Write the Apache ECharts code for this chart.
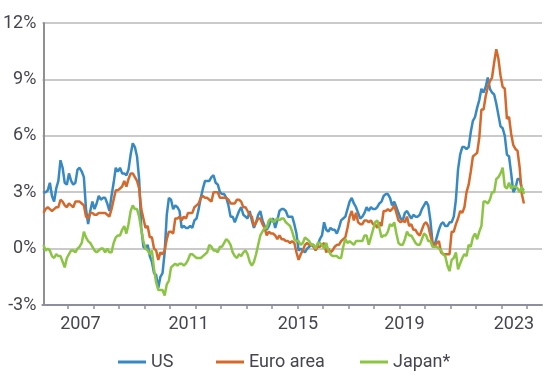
<!DOCTYPE html>
<html><head><meta charset="utf-8">
<script src="https://cdn.jsdelivr.net/npm/echarts@6/dist/echarts.min.js"></script>
<style>html,body{margin:0;padding:0;background:#fff}#c{width:560px;height:382px}</style>
</head><body><div id="c"></div>
<script>
// Monthly YoY inflation, Jan 2005 .. Nov 2023 (month index 0 = Jan 2005)
const seriesNames = ['US', 'Euro area', 'Japan*'];
const yearLabels = ['2007', '2011', '2015', '2019', '2023'];
const yTickValues = [-3, 0, 3, 6, 9, 12];

const usData = [
  3.0, 3.0, 3.1, 3.5, 2.8, 2.5, 3.2, 3.6, 4.7, 4.3, 3.5, 3.4,
  4.0, 3.6, 3.4, 3.5, 4.2, 4.3, 4.1, 3.8, 2.1, 1.3, 2.0, 2.5,
  2.1, 2.4, 2.8, 2.6, 2.7, 2.7, 2.4, 2.0, 2.8, 3.5, 4.3, 4.1,
  4.3, 4.0, 4.0, 3.9, 4.2, 5.0, 5.6, 5.4, 4.9, 3.7, 1.1, 0.1,
  0.0, 0.2, -0.4, -0.7, -1.3, -1.4, -2.1, -1.5, -1.3, -0.2, 1.8, 2.7,
  2.6, 2.1, 2.3, 2.2, 2.0, 1.1, 1.2, 1.1, 1.1, 1.2, 1.1, 1.5,
  1.6, 2.1, 2.7, 3.2, 3.6, 3.6, 3.6, 3.8, 3.9, 3.5, 3.4, 3.0,
  2.9, 2.9, 2.7, 2.3, 1.7, 1.7, 1.4, 1.7, 2.0, 2.2, 1.8, 1.7,
  1.6, 2.0, 1.5, 1.1, 1.4, 1.8, 2.0, 1.5, 1.2, 1.0, 1.2, 1.5,
  1.6, 1.1, 1.5, 2.0, 2.1, 2.1, 2.0, 1.7, 1.7, 1.7, 1.3, 0.8,
  -0.1, 0.0, -0.1, -0.2, 0.0, 0.1, 0.2, 0.2, 0.0, 0.2, 0.5, 0.7,
  1.4, 1.0, 0.9, 1.1, 1.0, 1.0, 0.8, 1.1, 1.5, 1.6, 1.7, 2.1,
  2.5, 2.7, 2.4, 2.2, 1.9, 1.6, 1.7, 1.9, 2.2, 2.0, 2.2, 2.1,
  2.1, 2.2, 2.4, 2.5, 2.8, 2.9, 2.9, 2.7, 2.3, 2.5, 2.2, 1.9,
  1.6, 1.5, 1.9, 2.0, 1.8, 1.6, 1.8, 1.7, 1.7, 1.8, 2.1, 2.3,
  2.5, 2.3, 1.5, 0.3, 0.2, 0.6, 1.0, 1.3, 1.4, 1.2, 1.2, 1.4,
  1.4, 1.7, 2.6, 4.2, 5.0, 5.4, 5.4, 5.3, 5.4, 6.2, 6.8, 7.0,
  7.5, 7.9, 8.5, 8.3, 8.6, 9.1, 8.5, 8.3, 8.2, 7.7, 7.1, 6.5,
  6.4, 6.0, 5.0, 4.9, 4.0, 3.0, 3.2, 3.7, 3.7, 3.2, 3.1
];

const euroData = [
  1.9, 2.1, 2.2, 2.1, 2.0, 2.1, 2.2, 2.2, 2.6, 2.5, 2.3, 2.2,
  2.4, 2.3, 2.2, 2.5, 2.5, 2.5, 2.4, 2.3, 1.7, 1.6, 1.9, 1.9,
  1.8, 1.8, 1.9, 1.9, 1.9, 1.9, 1.8, 1.7, 2.1, 2.6, 3.1, 3.1,
  3.2, 3.3, 3.6, 3.3, 3.7, 4.0, 4.0, 3.8, 3.6, 3.2, 2.1, 1.6,
  1.1, 1.2, 0.6, 0.6, 0.0, -0.1, -0.6, -0.2, -0.3, -0.1, 0.5, 0.9,
  0.9, 0.8, 1.6, 1.6, 1.7, 1.5, 1.7, 1.6, 1.9, 1.9, 1.9, 2.2,
  2.3, 2.4, 2.7, 2.8, 2.7, 2.7, 2.6, 2.5, 3.0, 3.0, 3.0, 2.7,
  2.7, 2.7, 2.7, 2.6, 2.4, 2.4, 2.4, 2.6, 2.6, 2.5, 2.2, 2.2,
  2.0, 1.8, 1.7, 1.2, 1.4, 1.6, 1.6, 1.3, 1.1, 0.7, 0.9, 0.8,
  0.8, 0.7, 0.5, 0.7, 0.5, 0.5, 0.4, 0.4, 0.3, 0.4, 0.3, -0.2,
  -0.6, -0.3, -0.1, 0.2, 0.3, 0.2, 0.2, 0.1, -0.1, 0.1, 0.1, 0.2,
  0.3, -0.2, 0.0, -0.2, -0.1, 0.1, 0.2, 0.2, 0.4, 0.5, 0.6, 1.1,
  1.7, 2.0, 1.5, 1.9, 1.4, 1.3, 1.3, 1.5, 1.5, 1.4, 1.5, 1.3,
  1.3, 1.1, 1.4, 1.2, 2.0, 2.0, 2.1, 2.0, 2.1, 2.3, 1.9, 1.5,
  1.4, 1.5, 1.4, 1.7, 1.2, 1.3, 1.0, 1.0, 0.8, 0.7, 1.0, 1.3,
  1.4, 1.2, 0.7, 0.3, 0.1, 0.3, 0.4, -0.2, -0.3, -0.3, -0.3, -0.3,
  0.9, 0.9, 1.3, 1.6, 2.0, 1.9, 2.2, 3.0, 3.4, 4.1, 4.9, 5.0,
  5.1, 5.9, 7.4, 7.4, 8.1, 8.6, 8.9, 9.1, 9.9, 10.6, 10.1, 9.2,
  8.6, 8.5, 6.9, 7.0, 6.1, 5.5, 5.3, 5.2, 4.3, 2.9, 2.4
];

const japanData = [
  0.2, -0.1, 0.0, -0.1, -0.4, -0.5, -0.3, -0.4, -0.4, -0.7, -1.0, -0.5,
  -0.3, -0.1, -0.1, -0.2, 0.0, 0.1, 0.3, 0.9, 0.6, 0.4, 0.3, 0.1,
  -0.1, -0.2, -0.1, 0.0, 0.0, -0.2, 0.0, -0.2, -0.2, 0.3, 0.6, 0.7,
  0.7, 1.0, 1.2, 0.8, 1.3, 2.0, 2.3, 2.1, 2.1, 1.7, 1.0, 0.4,
  0.0, -0.1, -0.3, -0.1, -1.1, -1.8, -2.2, -2.2, -2.2, -2.5, -1.9, -1.7,
  -1.0, -0.9, -0.8, -0.9, -0.8, -0.8, -0.9, -0.8, -0.6, -0.3, -0.3, -0.4,
  -0.5, -0.5, -0.5, -0.4, -0.3, -0.2, 0.2, 0.1, -0.1, -0.1, -0.2, 0.1,
  0.1, 0.3, 0.5, 0.4, 0.2, -0.2, -0.4, -0.5, -0.3, -0.4, -0.2, -0.1,
  -0.3, -0.7, -0.9, -0.7, -0.3, 0.2, 0.7, 0.9, 1.1, 1.1, 1.5, 1.6,
  1.4, 1.5, 1.6, 1.5, 1.6, 1.6, 1.4, 1.3, 1.2, 0.9, 0.5, 0.4,
  0.4, 0.2, 0.3, 0.6, 0.5, 0.4, 0.2, 0.2, 0.0, 0.3, 0.3, 0.2,
  0.0, 0.3, -0.1, -0.3, -0.4, -0.4, -0.4, -0.5, -0.5, 0.1, 0.5, 0.3,
  0.4, 0.3, 0.2, 0.4, 0.4, 0.4, 0.4, 0.7, 0.7, 0.2, 0.6, 1.0,
  1.4, 1.5, 1.1, 0.6, 0.7, 0.7, 0.9, 1.3, 1.2, 1.4, 0.8, 0.3,
  0.2, 0.2, 0.5, 0.9, 0.7, 0.7, 0.5, 0.3, 0.2, 0.2, 0.5, 0.8,
  0.7, 0.4, 0.4, 0.1, 0.1, 0.1, 0.0, -0.1, -0.3, -0.4, -0.9, -1.2,
  -0.6, -0.5, -0.2, -1.1, -0.8, -0.5, -0.3, -0.4, 0.2, 0.1, 0.6, 0.8,
  0.5, 0.9, 1.2, 2.5, 2.5, 2.4, 2.6, 3.0, 3.0, 3.7, 3.8, 4.0,
  4.3, 3.3, 3.2, 3.5, 3.2, 3.3, 3.3, 3.2, 3.0, 3.3, 2.9
];

// ---- layout / style ----
const colors = ['#3689c3', '#d5692b', '#8cc443'];
const textColor = '#45454f';
const axisColor = '#8f8f9c';
const fontFamily = 'Roboto';
// year-boundary ticks (between Dec and Jan), in month-index units
const tickPositions = [];
for (let k = 1; k <= 19; k++) tickPositions.push(12 * k - 0.5);
// where the year labels sit along the axis (month-index units)
const labelPositions = [17.4, 68.3, 119.7, 169.8, 221.3];

function toPairs(arr) { return arr.map((v, i) => [i, v]); }

const chart = echarts.init(document.getElementById('c'), null, { renderer: 'canvas' });
const legendBase = {
  icon: 'rect', itemWidth: 28, itemHeight: 3, top: 353, padding: 0,
  textStyle: { fontSize: 18, color: textColor, fontFamily: fontFamily }
};
chart.setOption({
  backgroundColor: '#ffffff',
  animation: false,
  color: colors,
  grid: { left: 42, right: 18, top: 23, bottom: 77, containLabel: false },
  legend: [
    Object.assign({ data: [seriesNames[0]], left: 118 }, legendBase),
    Object.assign({ data: [seriesNames[1]], left: 216 }, legendBase),
    Object.assign({ data: [seriesNames[2]], left: 360 }, legendBase)
  ],
  xAxis: {
    type: 'value', min: -0.5, max: 234.5,
    axisLine: { show: true, onZero: false, lineStyle: { color: axisColor, width: 2 } },
    axisTick: { show: true, length: 4, customValues: tickPositions, lineStyle: { color: axisColor, width: 1.5 } },
    axisLabel: {
      customValues: labelPositions,
      margin: 10, fontSize: 18, color: textColor, fontFamily: fontFamily,
      formatter: function (v) {
        const i = labelPositions.indexOf(v);
        return i >= 0 ? yearLabels[i] : '';
      }
    },
    splitLine: { show: false }
  },
  yAxis: {
    type: 'value', min: yTickValues[0], max: yTickValues[yTickValues.length - 1], interval: 3,
    axisLine: { show: true, lineStyle: { color: axisColor, width: 2 } },
    axisTick: { show: false },
    axisLabel: { margin: 6, fontSize: 18, color: textColor, fontFamily: fontFamily, formatter: '{value}%' },
    splitLine: { show: true, lineStyle: { color: '#b8b8b8', width: 1.5 } }
  },
  series: [
    { name: seriesNames[0], type: 'line', data: toPairs(usData), showSymbol: false, lineStyle: { width: 2.5 } },
    { name: seriesNames[1], type: 'line', data: toPairs(euroData), showSymbol: false, lineStyle: { width: 2.5 } },
    { name: seriesNames[2], type: 'line', data: toPairs(japanData), showSymbol: false, lineStyle: { width: 2.5 } }
  ]
});
</script>
</body></html>
